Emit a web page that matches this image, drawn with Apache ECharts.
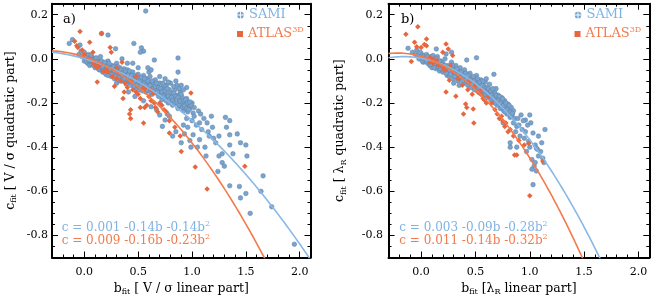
<!DOCTYPE html>
<html><head><meta charset="utf-8">
<script src="https://cdn.jsdelivr.net/npm/echarts@6/dist/echarts.min.js"></script>
<style>html,body{margin:0;padding:0;background:#fff}#c{width:653px;height:297px}</style>
</head><body><div id="c"></div>
<script>
// ---------------- data ----------------
const xTicks = [0.0, 0.5, 1.0, 1.5, 2.0];
const yTicks = [-0.8, -0.6, -0.4, -0.2, 0.0, 0.2];
const X_MIN = -0.3, X_MAX = 2.1, Y_MIN = -0.9, Y_MAX = 0.25;

// fit coefficients [c0, c1, c2] : c = c0 + c1 b + c2 b^2
const fitSamiA = [0.001, -0.14, -0.14];
const fitAtlasA = [0.009, -0.16, -0.23];
const fitSamiB = [0.003, -0.09, -0.28];
const fitAtlasB = [0.011, -0.14, -0.32];

const samiA = [
[-0.05,0.02],[-0.03,0.035],[-0.02,0.01],[0.0,0.03],[0.01,0.0],[0.02,0.015],[0.0,-0.01],[0.03,-0.02],[0.04,0.02],[0.05,0.0],[0.06,-0.01],[0.05,-0.03],[0.07,0.01],[0.08,-0.02],[0.09,-0.005],[0.1,-0.04],[0.1,0.0],[0.11,-0.02],[0.12,-0.035],[0.13,-0.01],[0.14,-0.05],[0.15,-0.025],[0.15,0.01],[0.16,-0.04],[0.17,-0.06],[0.18,-0.02],[0.19,-0.045],[0.2,-0.03],[0.2,-0.07],[0.21,-0.055],[0.22,-0.01],[0.23,-0.04],[0.24,-0.065],[0.25,-0.05],[0.25,-0.08],[0.26,-0.03],[0.27,-0.06],[0.28,-0.09],[0.29,-0.045],[0.3,-0.07],[0.3,-0.02],[0.31,-0.055],[0.32,-0.085],[0.33,-0.04],[0.34,-0.07],[0.35,-0.1],[0.35,-0.06],[0.36,-0.08],[0.37,-0.045],[0.38,-0.095],[0.39,-0.07],[0.4,-0.11],[0.4,-0.05],[0.41,-0.085],[0.42,-0.1],[0.43,-0.065],[0.44,-0.12],[0.45,-0.09],[0.45,-0.06],[0.46,-0.105],[0.47,-0.08],[0.48,-0.13],[0.49,-0.095],[0.5,-0.11],[0.5,-0.07],[0.51,-0.14],[0.52,-0.09],[0.53,-0.12],[0.54,-0.1],[0.55,-0.075],[0.55,-0.135],[0.56,-0.11],[0.57,-0.15],[0.58,-0.09],[0.59,-0.125],[0.6,-0.105],[0.6,-0.145],[0.61,-0.08],[0.62,-0.13],[0.63,-0.16],[0.64,-0.11],[0.65,-0.14],[0.66,-0.095],[0.67,-0.155],[0.68,-0.125],[0.69,-0.17],[0.7,-0.14],[0.7,-0.11],[0.71,-0.16],[0.72,-0.185],[0.73,-0.13],[0.74,-0.15],[0.75,-0.175],[0.76,-0.12],[0.77,-0.16],[0.78,-0.2],[0.79,-0.14],[0.8,-0.17],[0.8,-0.19],[0.81,-0.155],[0.82,-0.21],[0.83,-0.18],[0.84,-0.14],[0.85,-0.2],[0.86,-0.165],[0.87,-0.225],[0.88,-0.185],[0.89,-0.15],[0.9,-0.21],[0.91,-0.175],[0.92,-0.235],[0.93,-0.195],[0.94,-0.22],[0.95,-0.18],[0.96,-0.24],[0.97,-0.205],[0.98,-0.225],[1.0,-0.2],[1.01,-0.245],
[0.02,-0.01],[0.04,-0.005],[0.06,0.015],[0.07,-0.025],[0.09,-0.03],[0.11,0.005],[0.12,-0.015],[0.13,-0.045],[0.14,-0.02],[0.16,-0.01],[0.17,-0.035],[0.18,-0.055],[0.19,-0.015],[0.21,-0.035],[0.22,-0.075],[0.23,-0.02],[0.24,-0.045],[0.26,-0.07],[0.27,-0.035],[0.28,-0.055],[0.29,-0.08],[0.31,-0.035],[0.32,-0.06],[0.33,-0.1],[0.34,-0.05],[0.36,-0.065],[0.37,-0.09],[0.38,-0.055],[0.39,-0.115],[0.41,-0.07],[0.42,-0.055],[0.43,-0.09],[0.44,-0.075],[0.46,-0.125],[0.47,-0.1],[0.48,-0.075],[0.49,-0.12],[0.51,-0.1],[0.52,-0.125],[0.53,-0.085],[0.54,-0.145],[0.56,-0.09],[0.57,-0.12],[0.58,-0.14],[0.59,-0.1],[0.61,-0.12],[0.62,-0.15],[0.63,-0.1],[0.64,-0.135],[0.66,-0.125],[0.67,-0.11],[0.68,-0.15],[0.69,-0.13],[0.71,-0.135],[0.72,-0.15],[0.73,-0.17],[0.74,-0.12],[0.75,-0.145],[0.76,-0.19],[0.77,-0.135],[0.78,-0.17],[0.79,-0.185],[0.81,-0.175],[0.82,-0.19],[0.83,-0.155],[0.84,-0.2],[0.85,-0.17],[0.86,-0.2],[0.87,-0.175],[0.88,-0.21],[0.89,-0.19],[0.9,-0.16],[0.91,-0.22],[0.92,-0.19],[0.93,-0.215],[0.94,-0.185],[0.95,-0.225],[0.96,-0.2],[0.97,-0.23],[0.99,-0.21],[1.02,-0.22],[0.98,-0.195],
[0.35,0.0],[0.4,-0.02],[0.5,-0.04],[0.6,-0.06],[0.62,-0.05],[0.7,-0.08],[0.75,-0.09],[0.8,-0.11],[0.85,-0.1],[0.86,-0.12],[0.9,-0.12],[0.95,-0.13],[0.78,-0.105],[0.83,-0.125],[0.88,-0.135],[0.92,-0.14],
[0.725,-0.306],[0.75,-0.277],[0.79,-0.26],[0.47,-0.17],[0.41,-0.15],[0.3,-0.11],[0.55,-0.19],[0.62,-0.217],[0.67,-0.23],[0.7,-0.254],[0.77,-0.25],
[0.57,0.217],[-0.11,0.087],[-0.14,0.07],[-0.04,0.063],[0.16,0.115],[0.22,0.108],[0.46,0.07],[0.29,0.046],[0.53,0.05],[0.55,0.035],[0.52,0.03],[0.65,-0.005],[0.87,0.004],[0.87,-0.06],[0.73,-0.11],[0.59,-0.04],[0.45,-0.02],
[1.06,-0.236],[1.11,-0.27],[1.07,-0.29],[1.18,-0.26],[1.31,-0.265],[1.35,-0.28],[1.32,-0.31],[1.25,-0.35],[1.19,-0.31],[1.35,-0.344],[1.42,-0.34],[1.45,-0.38],[1.5,-0.39],[1.51,-0.44],[1.35,-0.39],[1.38,-0.43],[1.28,-0.43],[1.25,-0.44],[1.13,-0.44],[1.12,-0.4],[1.05,-0.4],[0.98,-0.37],[0.93,-0.34],[0.85,-0.33],[0.96,-0.31],[1.01,-0.344],[1.07,-0.366],[1.28,-0.47],[1.3,-0.486],[1.24,-0.51],[1.35,-0.575],[1.44,-0.578],[1.45,-0.63],[1.5,-0.61],[1.54,-0.7],[1.64,-0.6],[1.66,-0.53],[1.74,-0.67],[1.95,-0.84],[0.82,-0.35],[0.9,-0.38],[0.99,-0.4],[1.02,-0.26],[1.0,-0.28],[1.04,-0.3],[1.09,-0.32],[1.15,-0.33],[1.2,-0.36],[1.22,-0.38],[1.16,-0.35],[0.95,-0.27],[0.92,-0.3],[1.08,-0.25],[1.14,-0.29]
];

const atlasA = [
[-0.04,0.124],[-0.09,0.08],[-0.07,0.06],[-0.06,0.052],[0.16,0.115],[0.05,0.075],[0.24,0.052],[0.25,0.03],[0.12,-0.105],[0.28,-0.124],[0.37,-0.15],[0.43,-0.1],[0.43,-0.23],[0.42,-0.25],[0.43,-0.27],[0.55,-0.29],[0.52,-0.22],[0.56,-0.22],[0.62,-0.19],[0.65,-0.2],[0.56,-0.135],[0.55,-0.13],[0.72,-0.21],[0.76,-0.24],[0.79,-0.28],[0.84,-0.31],[0.79,-0.336],[0.89,-0.35],[0.99,-0.155],[0.9,-0.42],[1.03,-0.49],[1.14,-0.59],[1.49,-0.486],[0.33,-0.064],[0.18,-0.057],[0.48,-0.08],[0.36,-0.18],[0.64,-0.157],
[0.08,-0.02],[0.1,-0.03],[0.12,-0.04],[0.14,-0.03],[0.2,-0.05],[0.22,-0.06],[0.26,-0.08],[0.3,-0.09],[0.34,-0.1],[0.38,-0.11],[0.4,-0.13],[0.45,-0.14],[0.48,-0.15],[0.5,-0.16],[0.52,-0.18],[0.6,-0.17],[0.66,-0.22],[0.7,-0.2],[0.74,-0.23],[0.62,-0.14],[0.05,0.0],[0.0,0.02],[0.3,-0.04],[0.35,-0.015],[0.58,-0.21],[0.68,-0.24],[-0.02,0.04],[0.08,0.03]
];

const samiB = [
[-0.08,0.03],[-0.05,0.02],[-0.04,0.04],[-0.02,0.0],[0.0,0.025],[0.01,0.005],[0.02,-0.015],[0.03,0.015],[0.04,-0.005],[0.05,0.02],[0.06,-0.02],[0.07,0.0],[0.08,-0.03],[0.09,0.01],[0.1,-0.01],[0.1,-0.04],[0.11,0.015],[0.12,-0.025],[0.13,-0.005],[0.14,-0.045],[0.15,-0.015],[0.15,0.01],[0.16,-0.035],[0.17,-0.055],[0.18,-0.01],[0.19,-0.04],[0.2,-0.02],[0.2,-0.06],[0.21,-0.035],[0.22,0.0],[0.23,-0.05],[0.24,-0.075],[0.25,-0.03],[0.25,-0.055],[0.26,-0.08],[0.27,-0.045],[0.28,-0.015],[0.29,-0.065],[0.3,-0.09],[0.3,-0.04],[0.31,-0.06],[0.32,-0.03],[0.33,-0.08],[0.34,-0.1],[0.35,-0.055],[0.35,-0.075],[0.36,-0.04],[0.37,-0.09],[0.38,-0.065],[0.39,-0.11],[0.4,-0.08],[0.4,-0.05],[0.41,-0.1],[0.42,-0.07],[0.43,-0.12],[0.44,-0.09],[0.45,-0.065],[0.45,-0.11],[0.46,-0.13],[0.47,-0.085],[0.48,-0.105],[0.49,-0.14],[0.5,-0.095],[0.5,-0.12],[0.51,-0.075],[0.52,-0.135],[0.53,-0.11],[0.54,-0.155],[0.55,-0.12],[0.55,-0.095],[0.56,-0.145],[0.57,-0.165],[0.58,-0.125],[0.59,-0.105],[0.6,-0.15],[0.6,-0.175],[0.61,-0.13],[0.62,-0.16],[0.63,-0.115],[0.64,-0.185],[0.65,-0.145],[0.66,-0.17],[0.67,-0.195],[0.68,-0.155],[0.69,-0.135],[0.7,-0.18],[0.7,-0.21],[0.71,-0.165],[0.72,-0.195],[0.73,-0.225],[0.74,-0.175],[0.75,-0.205],[0.76,-0.235],[0.77,-0.19],[0.78,-0.22],[0.79,-0.25],[0.8,-0.205],[0.81,-0.235],[0.82,-0.265],[0.83,-0.22],[0.84,-0.25],
[-0.03,0.015],[-0.01,0.03],[0.01,-0.01],[0.03,0.0],[0.05,-0.01],[0.06,0.01],[0.08,-0.005],[0.09,-0.025],[0.11,-0.005],[0.12,-0.04],[0.13,-0.02],[0.14,0.0],[0.16,-0.02],[0.17,-0.01],[0.18,-0.045],[0.19,-0.025],[0.21,-0.05],[0.22,-0.03],[0.23,-0.065],[0.24,-0.04],[0.26,-0.05],[0.27,-0.07],[0.28,-0.04],[0.29,-0.03],[0.31,-0.08],[0.32,-0.055],[0.33,-0.045],[0.34,-0.07],[0.36,-0.085],[0.37,-0.06],[0.38,-0.1],[0.39,-0.075],[0.41,-0.065],[0.42,-0.09],[0.43,-0.075],[0.44,-0.105],[0.46,-0.095],[0.47,-0.115],[0.48,-0.08],[0.49,-0.1],[0.51,-0.115],[0.52,-0.09],[0.53,-0.13],[0.54,-0.105],[0.56,-0.12],[0.57,-0.1],[0.58,-0.145],[0.59,-0.16],[0.61,-0.155],[0.62,-0.135],[0.63,-0.17],[0.64,-0.145],[0.65,-0.165],[0.66,-0.135],[0.67,-0.175],[0.68,-0.2],[0.69,-0.165],[0.71,-0.19],[0.72,-0.17],[0.73,-0.2],[0.74,-0.22],[0.75,-0.18],[0.76,-0.21],[0.77,-0.24],[0.78,-0.2],[0.79,-0.23],[0.81,-0.21],[0.82,-0.24],[0.83,-0.26],[0.85,-0.235],[0.86,-0.27],
[-0.12,0.048],[0.14,0.045],[0.23,0.022],[0.28,0.03],[0.51,0.005],[0.42,-0.005],[0.67,-0.07],[0.6,-0.09],[0.35,-0.12],[0.3,-0.11],
[0.84,-0.247],[0.89,-0.27],[0.92,-0.254],[0.96,-0.277],[1.0,-0.254],[0.88,-0.306],[0.96,-0.33],[1.03,-0.336],[1.08,-0.35],[1.14,-0.32],[0.82,-0.38],[0.82,-0.4],[0.91,-0.35],[0.99,-0.374],[1.02,-0.456],[1.04,-0.486],[1.03,-0.57],[1.08,-0.44],[1.1,-0.42],[1.06,-0.508],[0.755,-0.29],[0.9,-0.3],[0.93,-0.32],[0.98,-0.3],[1.0,-0.4],[1.05,-0.39],[1.07,-0.41],[1.12,-0.45],[1.13,-0.47],[0.95,-0.36],[0.87,-0.33],[0.85,-0.29],[0.94,-0.28],[1.01,-0.29],[0.97,-0.42],[1.05,-0.47],[1.11,-0.38],[0.88,-0.4],[1.06,-0.404],[1.02,-0.5]
];

const atlasB = [
[-0.14,0.112],[-0.03,0.145],[0.05,0.09],[-0.06,0.075],[-0.04,0.055],[0.0,0.052],[-0.09,-0.012],[0.23,0.067],[0.25,0.045],[0.29,0.015],[0.08,-0.015],[0.11,-0.02],[0.14,-0.008],[0.22,-0.052],[0.26,-0.097],[0.23,-0.15],[0.32,-0.169],[0.41,-0.205],[0.42,-0.22],[0.39,-0.25],[0.485,-0.29],[0.48,-0.227],[0.555,-0.139],[0.585,-0.187],[0.74,-0.26],[0.77,-0.306],[0.8,-0.33],[0.86,-0.436],[0.88,-0.436],[0.99,-0.384],[1.12,-0.463],[1.0,-0.62],
[0.12,-0.01],[0.16,-0.03],[0.2,-0.04],[0.3,-0.06],[0.34,-0.09],[0.38,-0.12],[0.45,-0.1],[0.5,-0.12],[0.52,-0.15],[0.55,-0.16],[0.57,-0.18],[0.6,-0.2],[0.62,-0.17],[0.65,-0.2],[0.68,-0.23],[0.7,-0.25],[0.72,-0.27],[0.75,-0.28],[0.78,-0.29],[0.82,-0.32],[0.85,-0.35],[0.9,-0.37],[0.95,-0.39],[0.08,0.005],[0.1,0.0],[0.27,-0.03],[0.05,0.06],[0.03,0.065],[0.2,0.03],[0.43,-0.14],[0.47,-0.16]
];

// ---------------- style ----------------
const FONT = 'DejaVu Serif';
const BLUE = '#78a4d2', BLUE_EDGE = '#5f7f9e', ORANGE = '#e6673e';
const BLUE_LINE = '#88b8e5', ORANGE_LINE = '#f47a4b';
const BLUE_TEXT = '#80b2e2', ORANGE_TEXT = '#f47a4d';

function fitCurve(k) {
  const pts = [];
  for (let i = 0; i <= 240; i++) {
    const b = X_MIN + i * 0.01;
    pts.push([b, k[0] + k[1] * b + k[2] * b * b]);
  }
  return pts;
}

const grids = [
  {left: 52, right: 342.5, top: 3.7, bottom: 39.5, outerBoundsMode: 'none'},
  {left: 388.5, right: 3.7, top: 3.7, bottom: 39.5, outerBoundsMode: 'none'}
];

const nameRich = {
  m: {fontFamily: FONT, fontSize: 12.5, color: '#000'},
  s: {fontFamily: FONT, fontSize: 8, color: '#000', padding: [7, 0, 0, 0]}
};
const xNames = ['{m|b}{s|fit}{m| [ V / σ linear part]}', '{m|b}{s|fit}{m| [λ}{s|R}{m| linear part]}'];
const yNames = ['{m|c}{s|fit}{m| [ V / σ quadratic part]}', '{m|c}{s|fit}{m| [ λ}{s|R}{m| quadratic part]}'];
const yNameGap = [34, 41];
const yLabelMargin = [4, 5.5];

const xAxes = [], yAxes = [];
const lineOn = {show: true, onZero: false, lineStyle: {color: '#000', width: 2}};
const lineOff = {show: false, onZero: false};
const labelFont = {color: '#000', fontFamily: FONT, fontSize: 11};
for (let g = 0; g < 2; g++) {
  const cx = {gridIndex: g, type: 'value', min: X_MIN, max: X_MAX, splitLine: {show: false}};
  xAxes.push(Object.assign({}, cx, {position: 'bottom', axisLine: lineOn,
    axisTick: {show: true, inside: true, length: 6, customValues: xTicks, lineStyle: {color: '#000', width: 1}},
    axisLabel: Object.assign({show: true, customValues: xTicks, margin: 9, formatter: v => v.toFixed(1)}, labelFont),
    name: xNames[g], nameLocation: 'middle', nameGap: 23,
    nameTextStyle: {fontFamily: FONT, fontSize: 12.5, color: '#000', rich: nameRich}}));
  xAxes.push(Object.assign({}, cx, {position: 'bottom', interval: 0.1, axisLine: lineOff,
    axisTick: {show: true, inside: true, length: 3, lineStyle: {color: '#000', width: 1}}, axisLabel: {show: false}}));
  xAxes.push(Object.assign({}, cx, {position: 'top', axisLine: lineOn,
    axisTick: {show: true, inside: true, length: 6, customValues: xTicks, lineStyle: {color: '#000', width: 1}},
    axisLabel: {show: false}}));
  xAxes.push(Object.assign({}, cx, {position: 'top', interval: 0.1, axisLine: lineOff,
    axisTick: {show: true, inside: true, length: 3, lineStyle: {color: '#000', width: 1}}, axisLabel: {show: false}}));

  const cy = {gridIndex: g, type: 'value', min: Y_MIN, max: Y_MAX, splitLine: {show: false}};
  yAxes.push(Object.assign({}, cy, {position: 'left', axisLine: lineOn,
    axisTick: {show: true, inside: true, length: 6, customValues: yTicks, lineStyle: {color: '#000', width: 1}},
    axisLabel: Object.assign({show: true, customValues: yTicks, margin: yLabelMargin[g], formatter: v => v.toFixed(1)}, labelFont),
    name: yNames[g], nameLocation: 'middle', nameGap: yNameGap[g], nameRotate: 90,
    nameTextStyle: {fontFamily: FONT, fontSize: 12.5, color: '#000', rich: nameRich}}));
  yAxes.push(Object.assign({}, cy, {position: 'left', interval: 0.05, axisLine: lineOff,
    axisTick: {show: true, inside: true, length: 3, lineStyle: {color: '#000', width: 1}}, axisLabel: {show: false}}));
  yAxes.push(Object.assign({}, cy, {position: 'right', axisLine: lineOn,
    axisTick: {show: true, inside: true, length: 6, customValues: yTicks, lineStyle: {color: '#000', width: 1}},
    axisLabel: {show: false}}));
  yAxes.push(Object.assign({}, cy, {position: 'right', interval: 0.05, axisLine: lineOff,
    axisTick: {show: true, inside: true, length: 3, lineStyle: {color: '#000', width: 1}}, axisLabel: {show: false}}));
}

const panels = [
  {sami: samiA, atlas: atlasA, fs: fitSamiA, fa: fitAtlasA},
  {sami: samiB, atlas: atlasB, fs: fitSamiB, fa: fitAtlasB}
];
const series = [];
panels.forEach((p, g) => {
  const ax = {xAxisIndex: g * 4, yAxisIndex: g * 4};
  series.push(Object.assign({type: 'scatter', name: 'SAMI', data: p.sami, symbol: 'circle', symbolSize: 4.6,
    itemStyle: {color: BLUE, borderColor: BLUE_EDGE, borderWidth: 0.5, opacity: 1}, z: 2}, ax));
  series.push(Object.assign({type: 'scatter', name: 'ATLAS3D', data: p.atlas, symbol: 'diamond', symbolSize: 5.5,
    itemStyle: {color: ORANGE, opacity: 1}, z: 3}, ax));
  series.push(Object.assign({type: 'line', name: 'fit SAMI ' + g, data: fitCurve(p.fs), symbol: 'none', clip: true,
    lineStyle: {color: BLUE_LINE, width: 1.6}, z: 4}, ax));
  series.push(Object.assign({type: 'line', name: 'fit ATLAS ' + g, data: fitCurve(p.fa), symbol: 'none', clip: true,
    lineStyle: {color: ORANGE_LINE, width: 1.6}, z: 5}, ax));
});

const SAMI_ICON = 'path://M4.4 0.02A5 5 0 0 0 0.02 4.4L4.4 4.4ZM5.6 0.02L5.6 4.4L9.98 4.4A5 5 0 0 0 5.6 0.02ZM0.02 5.6A5 5 0 0 0 4.4 9.98L4.4 5.6ZM5.6 9.98A5 5 0 0 0 9.98 5.6L5.6 5.6Z';
const legendLeft = [237, 574.5];
const legends = [];
for (let g = 0; g < 2; g++) {
  legends.push({selectedMode: false, orient: 'vertical', left: legendLeft[g], top: 8, padding: 0,
    itemWidth: 7, itemHeight: 7, data: [{name: 'SAMI', icon: SAMI_ICON, itemStyle: {color: BLUE, borderWidth: 0}}],
    textStyle: {fontFamily: FONT, fontSize: 13, lineHeight: 14, color: BLUE_TEXT}});
  legends.push({selectedMode: false, orient: 'vertical', left: legendLeft[g], top: 26, padding: 0,
    itemWidth: 6, itemHeight: 6, data: [{name: 'ATLAS3D', icon: 'rect', itemStyle: {color: ORANGE, borderWidth: 0}}],
    formatter: () => '{m|ATLAS}{s|3D}',
    textStyle: {fontFamily: FONT, fontSize: 13, lineHeight: 14, color: ORANGE_TEXT,
      rich: {m: {fontFamily: FONT, fontSize: 13, color: ORANGE_TEXT},
             s: {fontFamily: FONT, fontSize: 8, color: ORANGE_TEXT, padding: [0, 0, 8, 0]}}}});
}

function eqText(x, y, txt, color) {
  return {type: 'text', x: x, y: y, z: 10, style: {
    text: '{m|' + txt + '}{s|2}', verticalAlign: 'middle', align: 'left',
    rich: {m: {fontFamily: FONT, fontSize: 12, fill: color},
           s: {fontFamily: FONT, fontSize: 8, fill: color, padding: [0, 0, 8, 0]}}}};
}
const eqs = [
  ['c = 0.001 -0.14b -0.14b', 'c = 0.009 -0.16b -0.23b'],
  ['c = 0.003 -0.09b -0.28b', 'c = 0.011 -0.14b -0.32b']
];
const graphic = [
  eqText(61.7, 228.3, eqs[0][0], BLUE_TEXT), eqText(61.7, 240.7, eqs[0][1], ORANGE_TEXT),
  eqText(399.3, 228.3, eqs[1][0], BLUE_TEXT), eqText(399.3, 240.7, eqs[1][1], ORANGE_TEXT),
  {type: 'text', x: 63, y: 20, z: 10, style: {text: 'a)', fontFamily: FONT, fontSize: 13, fill: '#000', verticalAlign: 'middle'}},
  {type: 'text', x: 401, y: 20, z: 10, style: {text: 'b)', fontFamily: FONT, fontSize: 13, fill: '#000', verticalAlign: 'middle'}}
];

const chart = echarts.init(document.getElementById('c'), null, {renderer: 'canvas'});
chart.setOption({
  animation: false,
  backgroundColor: '#fff',
  grid: grids,
  xAxis: xAxes,
  yAxis: yAxes,
  legend: legends,
  series: series,
  graphic: graphic
});
</script></body></html>
